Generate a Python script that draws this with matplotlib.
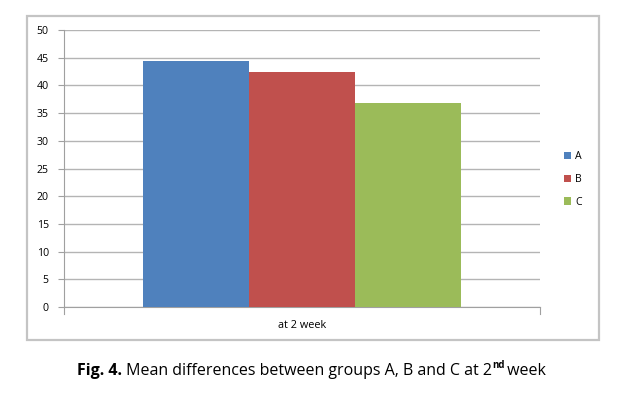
import matplotlib.pyplot as plt
import matplotlib.patches as mpatches
import numpy as np

plt.rcParams['font.family'] = ['Open Sans', 'DejaVu Sans']

groups = ['A', 'B', 'C']
values = [44.4, 42.4, 36.8]
colors = ['#4F81BD', '#C0504D', '#9BBB59']
category = 'at 2 week'

fig = plt.figure(figsize=(6.19, 3.94), dpi=100)

# outer chart frame
frame = mpatches.Rectangle((0.0436, 0.137), 0.924, 0.822, transform=fig.transFigure,
                           fill=False, edgecolor='#c4c4c4', linewidth=1.6)
fig.patches.append(frame)

ax = fig.add_axes([0.1034, 0.2208, 0.769, 0.703])
width = 0.222
offsets = (np.arange(len(groups)) - 1) * width
for off, v, c, g in zip(offsets, values, colors, groups):
    ax.bar(off, v, width, color=c, label=g, zorder=3)

ax.set_xlim(-0.5, 0.5)
ax.set_ylim(0, 50)
ax.set_yticks(np.arange(0, 51, 5))
ax.yaxis.grid(True, color='#b4b4b4', linewidth=1.0, zorder=0)
ax.set_xticks([0])
ax.set_xticklabels([category])
ax.tick_params(axis='x', length=0, pad=9, labelsize=7.8)
ax.tick_params(axis='y', length=4, color='#a0a0a0', labelsize=7.6, pad=7)
for s in ['top', 'right']:
    ax.spines[s].set_visible(False)
ax.spines['left'].set_color('#a0a0a0')
ax.spines['bottom'].set_color('#a0a0a0')
ax.spines['left'].set_zorder(4)
# tick marks at ends of x axis
ax.plot([-0.5, -0.5], [0, -1.2], color='#a0a0a0', lw=0.8, clip_on=False)
ax.plot([0.5, 0.5], [0, -1.2], color='#a0a0a0', lw=0.8, clip_on=False)

ax.legend(loc='center left', bbox_to_anchor=(1.03, 0.46), frameon=False,
          fontsize=7.6, handlelength=0.7, handleheight=0.7, handletextpad=0.4,
          labelspacing=1.1)

t1 = fig.text(0.124, 0.047, 'Fig. 4.', fontsize=11.5, fontweight='bold', va='baseline')
t2 = plt.annotate(' Mean differences between groups A, B and C at 2', xycoords=t1,
                  xy=(1, 0), va='bottom', fontsize=11.5)
t3 = plt.annotate('nd', xycoords=t2, xy=(1, 0.5), va='bottom', fontsize=7,
                  fontweight='bold')
t4 = plt.annotate(' week', xycoords=t2, xy=(1, 0), xytext=(8, 0),
                  textcoords='offset points', va='bottom', fontsize=11.5)

fig.savefig('out.png', dpi=100)
